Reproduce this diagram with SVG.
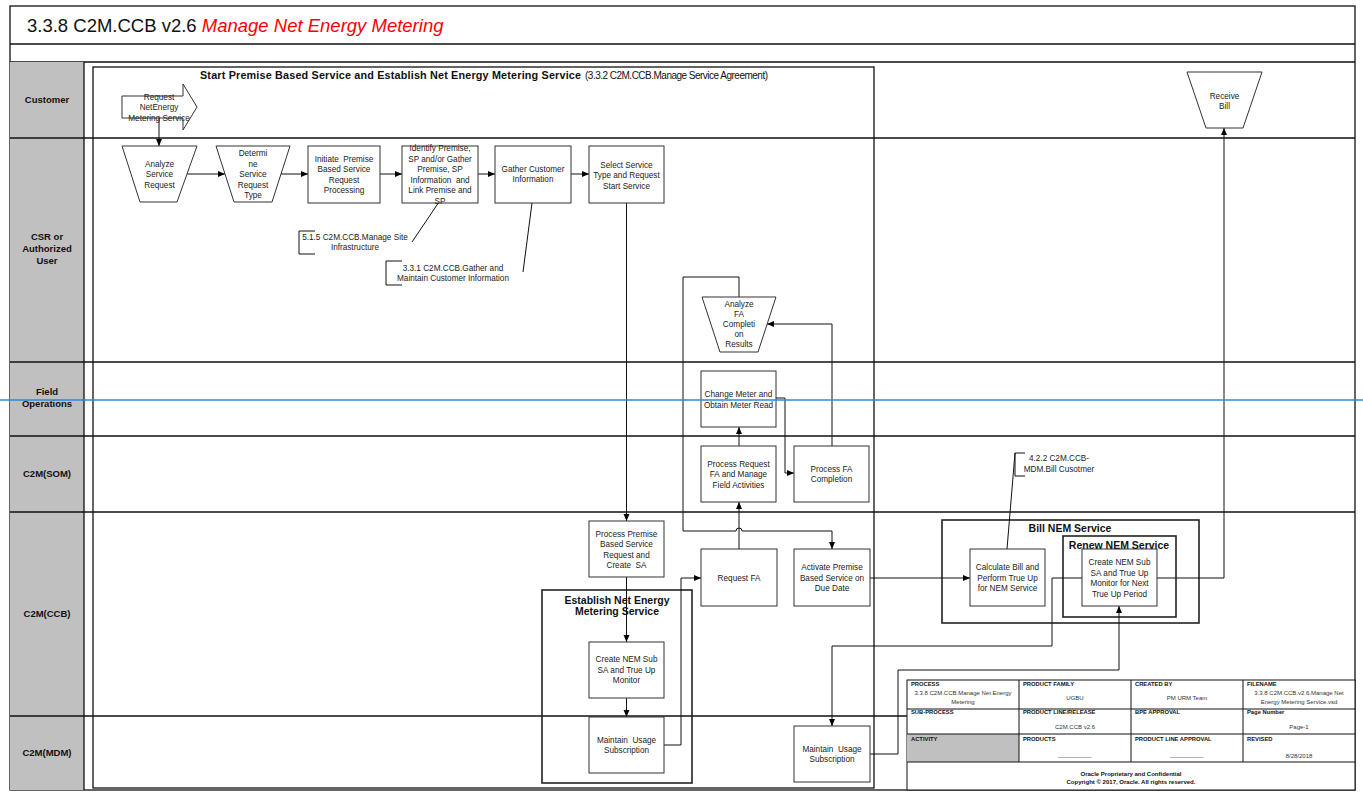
<svg xmlns="http://www.w3.org/2000/svg" width="1363" height="793" viewBox="0 0 1363 793">
<defs>
<marker id="arr" markerWidth="8" markerHeight="8" refX="7" refY="4" orient="auto" markerUnits="userSpaceOnUse"><path d="M0,1 L7,4 L0,7 z" fill="#000"/></marker>
<style>
text{font-family:"Liberation Sans",Arial,sans-serif;fill:#222}
.t{font-size:8.2px;text-anchor:middle}
.lane{font-size:9.5px;font-weight:bold;text-anchor:middle;fill:#111}
.box{fill:#fff;stroke:#333;stroke-width:1}
.cont{fill:none;stroke:#222;stroke-width:1.6}
.ct{font-size:10.5px;font-weight:bold;text-anchor:middle;fill:#111}
.ln{fill:none;stroke:#111;stroke-width:1.3}
.c{fill:none;stroke:#111;stroke-width:1}
.ca{fill:none;stroke:#111;stroke-width:1;marker-end:url(#arr)}
.th{font-size:5.8px;font-weight:bold;fill:#111}
.tv{font-size:6px;text-anchor:middle;fill:#333}
</style>
</defs>
<g id="frame">
<rect x="10" y="6" width="1345" height="784" fill="#fff" stroke="#111" stroke-width="1.3"/>
<line class="ln" x1="10" y1="44" x2="1355" y2="44"/>
<line class="ln" x1="10" y1="62" x2="1355" y2="62"/>
<text x="27" y="32" style="font-size:18.5px;fill:#111">3.3.8 C2M.CCB v2.6 <tspan style="fill:#ff0000;font-style:italic">Manage Net Energy Metering</tspan></text>
<rect x="10" y="62" width="74" height="728" fill="#c0c0c0"/>
<line class="ln" x1="84" y1="62" x2="84" y2="790"/>
<line class="ln" x1="10" y1="138" x2="1355" y2="138"/>
<line class="ln" x1="10" y1="362" x2="1355" y2="362"/>
<line class="ln" x1="10" y1="436" x2="1355" y2="436"/>
<line class="ln" x1="10" y1="512" x2="1355" y2="512"/>
<line class="ln" x1="10" y1="716" x2="1355" y2="716"/>
<text class="lane" x="47" y="103">Customer</text>
<text class="lane" x="47" y="240">CSR or</text>
<text class="lane" x="47" y="252">Authorized</text>
<text class="lane" x="47" y="264">User</text>
<text class="lane" x="47" y="395">Field</text>
<text class="lane" x="47" y="407">Operations</text>
<text class="lane" x="47" y="477">C2M(SOM)</text>
<text class="lane" x="47" y="617">C2M(CCB)</text>
<text class="lane" x="47" y="756">C2M(MDM)</text>
</g>
<g id="start-premise-container">
<rect x="93" y="67" width="781" height="721" fill="none" stroke="#111" stroke-width="1.3"/>
<text x="200" y="79" style="font-size:10.8px;font-weight:bold;fill:#111" textLength="381" lengthAdjust="spacing">Start Premise Based Service and Establish Net Energy Metering Service</text>
<text x="585" y="79" style="font-size:10px;fill:#111" textLength="183" lengthAdjust="spacing">(3.3.2 C2M.CCB.Manage Service Agreement)</text>
</g>
<g id="establish-container">
<rect class="cont" x="542" y="590" width="150" height="193"/>
<text class="ct" x="617" y="603.5">Establish Net Energy</text>
<text class="ct" x="617" y="614.5">Metering Service</text>
</g>
<g id="bill-container">
<rect class="cont" x="942" y="520" width="257" height="103"/>
<text class="ct" x="1070" y="532">Bill NEM Service</text>
</g>
<g id="renew-container">
<rect class="cont" x="1063" y="536" width="113" height="81"/>
<text class="ct" x="1119" y="548.5">Renew NEM Service</text>
</g>
<g id="connectors">
<path class="ca" d="M159,118 L159,146"/>
<path class="ca" d="M187,174 L225,174"/>
<path class="ca" d="M281,174 L308,174"/>
<path class="ca" d="M380,174 L402,174"/>
<path class="ca" d="M478,174 L495,174"/>
<path class="ca" d="M571,174 L589,174"/>
<path class="ca" d="M626.5,203 L626.5,521"/>
<path class="ca" d="M626.5,577 L626.5,642"/>
<path class="ca" d="M626.5,698 L626.5,717"/>
<path class="ca" d="M664,745 L681,745 L681,578 L701,578"/>
<path class="ca" d="M739,549 L739,502"/>
<path class="ca" d="M739,446 L739,427"/>
<path class="ca" d="M776,398 L785,398 L785,473 L794,473"/>
<path class="ca" d="M832,446 L832,324 L767,324"/>
<path class="ca" d="M739,297 L739,277 L683,277 L683,531 L736,531 A3,3 0 0 1 742,531 L832,531 L832,549"/>
<path class="ca" d="M870,578 L970,578"/>
<path class="ca" d="M1157,578 L1224,578 L1224,128"/>
<path class="ca" d="M870,754 L898,754 L898,670 L1119,670 L1119,606"/>
<path class="ca" d="M1082,578 L1052,578 L1052,646 L832,646 L832,726"/>
<path class="c" d="M412,242 L439,202"/>
<path class="c" d="M523,272 L532,203"/>
<path class="c" d="M1007,549 L1015,453"/>
</g>
<g id="req-nem">
<polygon class="box" points="122,96 183,96 183,84 197,107 183,130 183,118 122,118"/>
<text class="t" x="159" y="99.5">Request</text>
<text class="t" x="159" y="110">NetEnergy</text>
<text class="t" x="159" y="120.5">Metering Service</text>
</g>
<g id="analyze-sr">
<path class="box" d="M122,146 L197,146 L177,202 L140,202 Z"/>
<text class="t" x="159.5" y="166.5">Analyze</text>
<text class="t" x="159.5" y="177">Service</text>
<text class="t" x="159.5" y="187.5">Request</text>
</g>
<g id="determine">
<path class="box" d="M216,146 L290,146 L272,202 L234,202 Z"/>
<text class="t" x="253" y="156">Determi</text>
<text class="t" x="253" y="166.5">ne</text>
<text class="t" x="253" y="177">Service</text>
<text class="t" x="253" y="187.5">Request</text>
<text class="t" x="253" y="198">Type</text>
</g>
<g id="initiate">
<rect class="box" x="308" y="146" width="72" height="57"/>
<text class="t" x="344" y="161.5" xml:space="preserve">Initiate  Premise</text>
<text class="t" x="344" y="172">Based Service</text>
<text class="t" x="344" y="182.5">Request</text>
<text class="t" x="344" y="193">Processing</text>
</g>
<g id="identify">
<rect class="box" x="402" y="146" width="76" height="57"/>
<text class="t" x="440" y="151">Identify Premise,</text>
<text class="t" x="440" y="161.5">SP and/or Gather</text>
<text class="t" x="440" y="172">Premise, SP</text>
<text class="t" x="440" y="182.5" xml:space="preserve">Information  and</text>
<text class="t" x="440" y="193">Link Premise and</text>
<text class="t" x="440" y="203.5">SP</text>
</g>
<g id="gather">
<rect class="box" x="495" y="146" width="76" height="57"/>
<text class="t" x="533" y="171.5">Gather Customer</text>
<text class="t" x="533" y="182">Information</text>
</g>
<g id="select">
<rect class="box" x="589" y="146" width="75" height="57"/>
<text class="t" x="626.5" y="167.5">Select Service</text>
<text class="t" x="626.5" y="178">Type and Request</text>
<text class="t" x="626.5" y="188.5">Start Service</text>
</g>
<g id="ann-515">
<path class="c" d="M315,231 L299,231 L299,254 L315,254"/>
<text class="t" x="355" y="239.5">5.1.5 C2M.CCB.Manage Site</text>
<text class="t" x="355" y="250">Infrastructure</text>
</g>
<g id="ann-331">
<path class="c" d="M402,261 L386,261 L386,285 L402,285"/>
<text class="t" x="453" y="270.5">3.3.1 C2M.CCB.Gather and</text>
<text class="t" x="453" y="281">Maintain Customer Information</text>
</g>
<g id="analyze-fa">
<path class="box" d="M702,297 L776,297 L758,352 L720,352 Z"/>
<text class="t" x="739" y="306.5">Analyze</text>
<text class="t" x="739" y="316.5">FA</text>
<text class="t" x="739" y="326.5">Completi</text>
<text class="t" x="739" y="336.5">on</text>
<text class="t" x="739" y="346.5">Results</text>
</g>
<g id="change-meter">
<rect class="box" x="701" y="371" width="75" height="56"/>
<text class="t" x="738.5" y="397">Change Meter and</text>
<text class="t" x="738.5" y="407.5">Obtain Meter Read</text>
</g>
<g id="process-request-fa">
<rect class="box" x="701" y="446" width="75" height="56"/>
<text class="t" x="738.5" y="466.5">Process Request</text>
<text class="t" x="738.5" y="477">FA and Manage</text>
<text class="t" x="738.5" y="487.5">Field Activities</text>
</g>
<g id="process-fa-completion">
<rect class="box" x="794" y="446" width="75" height="56"/>
<text class="t" x="831.5" y="471.5">Process FA</text>
<text class="t" x="831.5" y="482">Completion</text>
</g>
<g id="ann-422">
<path class="c" d="M1025,453 L1015,453 L1015,476 L1025,476"/>
<text class="t" x="1059" y="461">4.2.2 C2M.CCB-</text>
<text class="t" x="1059" y="472">MDM.Bill Cusotmer</text>
</g>
<g id="process-premise">
<rect class="box" x="589" y="521" width="75" height="56"/>
<text class="t" x="626.5" y="536.5">Process Premise</text>
<text class="t" x="626.5" y="547">Based Service</text>
<text class="t" x="626.5" y="557.5">Request and</text>
<text class="t" x="626.5" y="568" xml:space="preserve">Create  SA</text>
</g>
<g id="request-fa">
<rect class="box" x="701" y="549" width="76" height="57"/>
<text class="t" x="739" y="580.5">Request FA</text>
</g>
<g id="activate">
<rect class="box" x="794" y="549" width="76" height="57"/>
<text class="t" x="832" y="570">Activate Premise</text>
<text class="t" x="832" y="580.5">Based Service on</text>
<text class="t" x="832" y="591">Due Date</text>
</g>
<g id="create-nem-sub">
<rect class="box" x="589" y="642" width="75" height="56"/>
<text class="t" x="626.5" y="662">Create NEM Sub</text>
<text class="t" x="626.5" y="672.5">SA and True Up</text>
<text class="t" x="626.5" y="683">Monitor</text>
</g>
<g id="maintain-usage-1">
<rect class="box" x="589" y="717" width="75" height="56"/>
<text class="t" x="626.5" y="742.5" xml:space="preserve">Maintain  Usage</text>
<text class="t" x="626.5" y="753">Subscription</text>
</g>
<g id="maintain-usage-2">
<rect class="box" x="794" y="726" width="76" height="56"/>
<text class="t" x="832" y="751.5" xml:space="preserve">Maintain  Usage</text>
<text class="t" x="832" y="762">Subscription</text>
</g>
<g id="calculate-bill">
<rect class="box" x="970" y="549" width="75" height="57"/>
<text class="t" x="1007.5" y="570">Calculate Bill and</text>
<text class="t" x="1007.5" y="580.5">Perform True Up</text>
<text class="t" x="1007.5" y="591">for NEM Service</text>
</g>
<g id="create-nem-next">
<rect class="box" x="1082" y="549" width="75" height="57"/>
<text class="t" x="1119.5" y="565">Create NEM Sub</text>
<text class="t" x="1119.5" y="575.5">SA and True Up</text>
<text class="t" x="1119.5" y="586">Monitor for Next</text>
<text class="t" x="1119.5" y="596.5">True Up Period</text>
</g>
<g id="receive-bill">
<path class="box" d="M1187,72 L1262,72 L1243,128 L1206,128 Z"/>
<text class="t" x="1224.5" y="98.5">Receive</text>
<text class="t" x="1224.5" y="109">Bill</text>
</g>
<g id="title-block">
<rect x="907" y="680" width="448" height="110" fill="#fff" stroke="#111" stroke-width="1"/>
<rect x="907" y="734" width="112" height="28" fill="#c0c0c0"/>
<line class="c" x1="907" y1="709" x2="1355" y2="709"/>
<line class="c" x1="907" y1="734" x2="1355" y2="734"/>
<line class="c" x1="907" y1="762" x2="1355" y2="762"/>
<line class="c" x1="1019" y1="680" x2="1019" y2="762"/>
<line class="c" x1="1131" y1="680" x2="1131" y2="762"/>
<line class="c" x1="1243" y1="680" x2="1243" y2="762"/>
<text class="th" x="911" y="686">PROCESS</text>
<text class="th" x="1023" y="686">PRODUCT FAMILY</text>
<text class="th" x="1135" y="686">CREATED BY</text>
<text class="th" x="1247" y="686">FILENAME</text>
<text class="tv" x="963" y="695">3.3.8 C2M.CCB.Manage Net Energy</text>
<text class="tv" x="963" y="704">Metering</text>
<text class="tv" x="1075" y="700">UGBU</text>
<text class="tv" x="1187" y="700">PM URM Team</text>
<text class="tv" x="1299" y="695">3.3.8 C2M.CCB.v2.6.Manage Net</text>
<text class="tv" x="1299" y="704">Energy Metering Service.vsd</text>
<text class="th" x="911" y="714">SUB-PROCESS</text>
<text class="th" x="1023" y="714">PRODUCT LINE/RELEASE</text>
<text class="th" x="1135" y="714">BPE APPROVAL</text>
<text class="th" x="1247" y="714">Page Number</text>
<text class="tv" x="1075" y="729">C2M.CCB v2.6</text>
<text class="tv" x="1299" y="729">Page-1</text>
<text class="th" x="911" y="741">ACTIVITY</text>
<text class="th" x="1023" y="741">PRODUCTS</text>
<text class="th" x="1135" y="741">PRODUCT LINE APPROVAL</text>
<text class="th" x="1247" y="741">REVISED</text>
<text class="tv" x="1075" y="757">__________</text>
<text class="tv" x="1187" y="757">__________</text>
<text class="tv" x="1299" y="758">8/28/2018</text>
<text class="tv" x="1131" y="776" style="font-weight:bold;fill:#111">Oracle Proprietary and Confidential</text>
<text class="tv" x="1131" y="784" style="font-weight:bold;fill:#111">Copyright © 2017, Oracle. All rights reserved.</text>
</g>
<g id="guide-line">
<line x1="0" y1="400" x2="1363" y2="400" stroke="#2b8ad0" stroke-width="1.6"/>
</g>
</svg>
